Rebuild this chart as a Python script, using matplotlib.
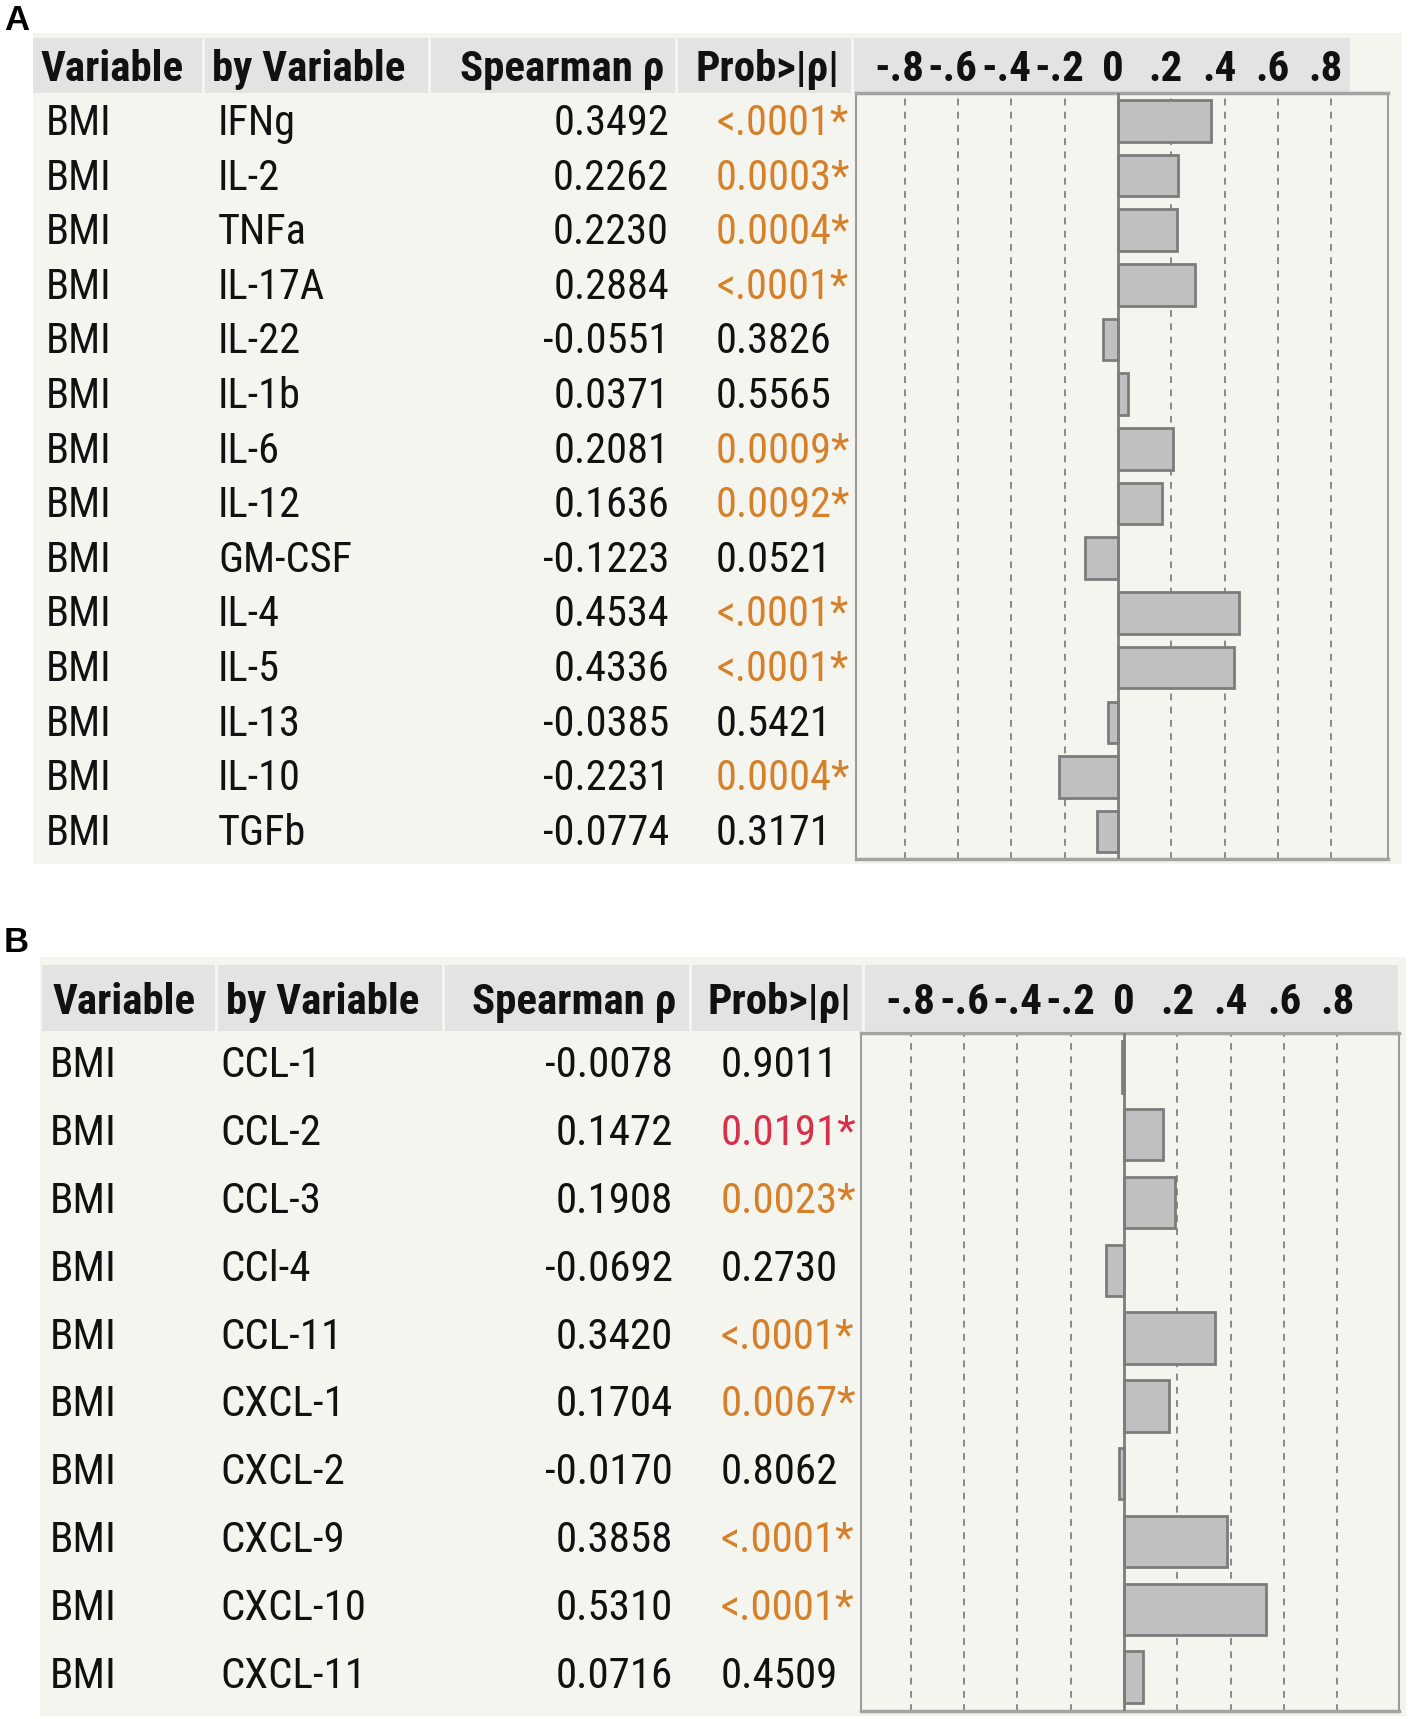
import matplotlib
matplotlib.use('Agg')
import matplotlib.pyplot as plt
from matplotlib import font_manager as fm
from matplotlib.patches import Rectangle
from matplotlib.transforms import blended_transform_factory

# ---------------- data ----------------
a_var = ['BMI'] * 14
a_by = ['IFNg', 'IL-2', 'TNFa', 'IL-17A', 'IL-22', 'IL-1b', 'IL-6', 'IL-12',
        'GM-CSF', 'IL-4', 'IL-5', 'IL-13', 'IL-10', 'TGFb']
a_rho = [0.3492, 0.2262, 0.2230, 0.2884, -0.0551, 0.0371, 0.2081, 0.1636,
         -0.1223, 0.4534, 0.4336, -0.0385, -0.2231, -0.0774]
a_prob = ['<.0001', '0.0003', '0.0004', '<.0001', '0.3826', '0.5565', '0.0009',
          '0.0092', '0.0521', '<.0001', '<.0001', '0.5421', '0.0004', '0.3171']

b_var = ['BMI'] * 10
b_by = ['CCL-1', 'CCL-2', 'CCL-3', 'CCl-4', 'CCL-11', 'CXCL-1', 'CXCL-2',
        'CXCL-9', 'CXCL-10', 'CXCL-11']
b_rho = [-0.0078, 0.1472, 0.1908, -0.0692, 0.3420, 0.1704, -0.0170, 0.3858,
         0.5310, 0.0716]
b_prob = ['0.9011', '0.0191', '0.0023', '0.2730', '<.0001', '0.0067', '0.8062',
          '<.0001', '<.0001', '0.4509']

headers = ['Variable', 'by Variable', 'Spearman ρ', 'Prob>|ρ|']
tick_vals = [-0.8, -0.6, -0.4, -0.2, 0, 0.2, 0.4, 0.6, 0.8]
tick_labels = ['-.8', '-.6', '-.4', '-.2', '0', '.2', '.4', '.6', '.8']

# ---------------- style ----------------
W, H = 1408, 1719
DPI = 100


def pick_font(cands):
    for c in cands:
        try:
            fm.findfont(fm.FontProperties(family=c), fallback_to_default=False)
            return c
        except Exception:
            pass
    return None


NARROW = pick_font(['Liberation Sans Narrow', 'Roboto Condensed', 'DejaVu Sans Condensed'])
if NARROW is None:
    NARROW = 'Liberation Sans'
    SCALE = 0.82
else:
    SCALE = 1.0
FAM = [NARROW, 'DejaVu Sans']

TXT = '#111111'
ORANGE = '#d6802a'
RED = '#d8304b'
BG = '#f5f5f0'
HDR = '#e3e3e3'


def pval(s):
    return float(s.replace('<', '0') if s.startswith('<.') else s)


def pcolor(s):
    p = pval(s)
    if p < 0.01:
        return ORANGE
    if p < 0.05:
        return RED
    return TXT


def cap_px(fs):
    return fs * DPI / 72 * 0.711


fig = plt.figure(figsize=(W / DPI, H / DPI), dpi=DPI)
fig.patch.set_facecolor('white')
bg = fig.add_axes([0, 0, 1, 1])
bg.set_xlim(0, W)
bg.set_ylim(H, 0)
bg.axis('off')

panels = [
    dict(label='A', label_xy=(16.5, 21), bgbox=(33, 33, 1402, 864),
         hdr_y=(38.5, 93.5), hdr_x0=33, seps=[203.5, 429, 676.5, 852.5], hdr_x1=1351,
         hdr_cy=66, hdr_pos=[(40.7, 'left'), (212, 'left'), (664, 'right'), (695, 'left')],
         y0=120, dy=54.6, col_pos=[(46, 'left'), (218, 'left'), (669, 'right'), (716, 'left')],
         box=(856, 93.5, 1388, 859), zero=1118, scale=266.5, lab_off=-0.02,
         var=a_var, by=a_by, rho=a_rho, prob=a_prob, fs=30.5, hfs=31),
    dict(label='B', label_xy=(16.5, 943), bgbox=(40, 957, 1406, 1716),
         hdr_y=(965, 1031), hdr_x0=42, seps=[216.7, 443, 690, 863.5], hdr_x1=1399,
         hdr_cy=999, hdr_pos=[(53, 'left'), (225.5, 'left'), (676.5, 'right'), (707, 'left')],
         y0=1062, dy=67.8, col_pos=[(49.5, 'left'), (220, 'left'), (673, 'right'), (720.5, 'left')],
         box=(861, 1033, 1399, 1711), zero=1124, scale=266.8, lab_off=0.0,
         var=b_var, by=b_by, rho=b_rho, prob=b_prob, fs=31, hfs=31),
]

for P in panels:
    fs = P['fs'] * SCALE
    hfs = P['hfs'] * SCALE
    cap = cap_px(fs)
    hcap = cap_px(hfs)
    # panel label
    bg.text(P['label_xy'][0], P['label_xy'][1], P['label'], ha='center', va='center',
            fontsize=25, fontweight='bold', family=['Liberation Sans', 'DejaVu Sans'], color='black')
    # table background
    x0, y0b, x1, y1b = P['bgbox']
    bg.add_patch(Rectangle((x0, y0b), x1 - x0, y1b - y0b, facecolor=BG, edgecolor='none', zorder=0))
    # header cells
    hy0, hy1 = P['hdr_y']
    edges = [P['hdr_x0']] + P['seps'] + [P['hdr_x1']]
    for i in range(len(edges) - 1):
        gap = 1.5 if i > 0 else 0
        bg.add_patch(Rectangle((edges[i] + gap, hy0), edges[i + 1] - edges[i] - gap - 1.5, hy1 - hy0,
                               facecolor=HDR, edgecolor='none', zorder=1))
    # header text
    hb = P['hdr_cy'] + hcap / 2
    for (hx, ha), t in zip(P['hdr_pos'], headers):
        bg.text(hx, hb, t, ha=ha, va='baseline', fontsize=hfs, fontweight='bold',
                family=FAM, color=TXT, zorder=5)
    # rows
    for i in range(len(P['by'])):
        yb = P['y0'] + i * P['dy'] + cap / 2
        vals = [P['var'][i], P['by'][i], f"{P['rho'][i]:.4f}",
                P['prob'][i] + ('*' if pval(P['prob'][i]) < 0.05 else '')]
        cols = [TXT, TXT, TXT, pcolor(P['prob'][i])]
        for (cx, ha), v, c in zip(P['col_pos'], vals, cols):
            bg.text(cx, yb, v, ha=ha, va='baseline', fontsize=fs, family=FAM, color=c, zorder=5)

    # bar chart axes
    bx0, by0, bx1, by1 = P['box']
    ax = fig.add_axes([bx0 / W, 1 - by1 / H, (bx1 - bx0) / W, (by1 - by0) / H])
    ax.set_facecolor(BG)
    n = len(P['rho'])
    ax.set_xlim((bx0 - P['zero']) / P['scale'], (bx1 - P['zero']) / P['scale'])
    ax.set_ylim(n - 0.5, -0.5)
    for tv in tick_vals:
        if tv != 0:
            ax.axvline(tv, color='#8a8a8a', lw=1.4, linestyle=(0, (3.5, 3.3)), zorder=1)
    ax.barh(range(n), P['rho'], height=0.76, color='#c0c0c0', edgecolor='#7c7c7c',
            linewidth=2.0, zorder=3)
    ax.axvline(0, color='#7d7d7d', lw=2.0, zorder=4)
    ax.set_xticks([])
    ax.set_yticks([])
    for side in ['left', 'right']:
        ax.spines[side].set_color('#9c9c9c')
        ax.spines[side].set_linewidth(1.5)
    for side in ['top', 'bottom']:
        ax.spines[side].set_color('#a3a3a3')
        ax.spines[side].set_linewidth(2.5)
    tr = blended_transform_factory(ax.transData, bg.transData)
    for tv, tl in zip(tick_vals, tick_labels):
        bg.text(tv + P['lab_off'], hb, tl, ha='center', va='baseline', fontsize=hfs,
                fontweight='bold', family=FAM, color=TXT, transform=tr, zorder=6)

fig.savefig('out.png', dpi=DPI, facecolor='white')
